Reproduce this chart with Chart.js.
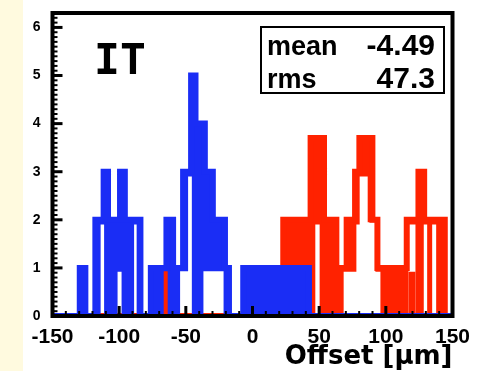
<!DOCTYPE html>
<html>
<head>
<meta charset="utf-8">
<script src="https://cdn.jsdelivr.net/npm/chart.js@4/dist/chart.umd.min.js"></script>
<style>
  html, body { margin: 0; padding: 0; }
  body {
    width: 480px; height: 371px; overflow: hidden;
    background: linear-gradient(to right, #fffadf 0, #fffadf 23px, #ffffff 23px);
  }
  canvas { display: block; }
</style>
</head>
<body>
<canvas id="c" width="480" height="371"></canvas>
<script>
// Track offset distributions (µm), stored as histogram bin edges + counts.
const blueEdges  = [-150, -129.55, -125.35, -117.85, -111.65, -108.35, -99.35, -95.75, -84.05, -76.25,
                    -64.55, -59.55, -52.05, -46.05, -42.75, -35.75, -29.75, -20.65, -17.65, -6.95, 42.35, 150];
const blueCounts = [0, 1, 0, 2, 3, 2, 3, 2, 0, 1, 2, 1, 3, 5, 4, 3, 2, 1, 0, 1, 0];

const redEdges   = [-150, -66, -64.5, 23.08, 43.58, 53.65, 62.89, 70.62, 76.93, 80.16,
                    89.92, 93.68, 115.68, 124.47, 128.75, 144.21, 150];
const redCounts  = [0, 1, 0, 2, 3.7, 2, 1, 2, 3, 3.7, 2, 1, 2, 3, 2, 0];

// Hollow parts left inside the heavy outlined bars: x-range and empty band [low, high].
const blueHoleFrom = [-113.9, -101.2, -88.8, -66.6, -54.3, -48.3, -36.8];
const blueHoleTo   = [-111.3, -98.2, -86.9, -63.6, -48.3, -45.5, -21.7];
const blueHoleLow  = [0, 0, 0, 0, 0, 0, 0];
const blueHoleHigh = [1.9, 0.92, 1.9, 0.93, 0.93, 2.9, 0.93];

const redHoleFrom = [47.11, 68.37, 77.91, 80.38, 86.39, 92.17, 116.96, 128.45, 134.75];
const redHoleTo   = [50.35, 77.91, 80.38, 86.39, 92.17, 95.93, 122.22, 131.0, 137.75];
const redHoleLow  = [0, 0, 0, 0, 0, 0, 0.92, 0, 0];
const redHoleHigh = [1.9, 0.92, 1.9, 2.9, 1.95, 0.92, 1.9, 1.9, 1.9];

const xTicks = [-150, -100, -50, 0, 50, 100, 150];
const yTicks = [0, 1, 2, 3, 4, 5, 6];
const statNames  = ['mean', 'rms'];
const statValues = ['-4.49', '47.3'];
const panelName  = 'IT';
const axisTitle  = 'Offset [μm]';

const BLUE = '#1a2df5';
const RED  = '#ff2200';

// Turn bins + hollows into three step profiles sharing the same x breakpoints.
function profile(edges, counts, hFrom, hTo, hLow, hHigh) {
  const xs = Array.from(new Set(edges.concat(hFrom, hTo))).sort((a, b) => a - b);
  const binAt = x => {
    for (let i = 0; i < counts.length; i++) if (x >= edges[i] && x < edges[i + 1]) return counts[i];
    return 0;
  };
  const holeAt = x => {
    for (let j = 0; j < hFrom.length; j++) if (x >= hFrom[j] && x < hTo[j]) return j;
    return -1;
  };
  return {
    top:  xs.map(x => ({ x, y: binAt(x) })),
    high: xs.map(x => { const j = holeAt(x); return { x, y: j < 0 ? 0 : hHigh[j] }; }),
    low:  xs.map(x => { const j = holeAt(x); return { x, y: j < 0 ? 0 : hLow[j] }; })
  };
}

// Heavy outline on the counts, filled down to the hollow band (or to zero).
function series(p, color) {
  const common = { stepped: true, pointRadius: 0, pointHoverRadius: 0 };
  return [
    { ...common, data: p.top, borderColor: color, borderWidth: 6, backgroundColor: color,
      fill: '+1', borderJoinStyle: 'miter', borderCapStyle: 'butt' },
    { ...common, data: p.high, borderColor: 'rgba(0,0,0,0)', borderWidth: 0, fill: false },
    { ...common, data: p.low, borderColor: 'rgba(0,0,0,0)', borderWidth: 0, backgroundColor: color, fill: 'origin' }
  ];
}

const blue = profile(blueEdges, blueCounts, blueHoleFrom, blueHoleTo, blueHoleLow, blueHoleHigh);
const red  = profile(redEdges, redCounts, redHoleFrom, redHoleTo, redHoleLow, redHoleHigh);

// Frame, inward tick marks, panel name and statistics box.
const decorations = {
  id: 'decorations',
  afterDatasetsDraw(chart) {
    const { ctx, chartArea: a, scales: { x, y } } = chart;
    ctx.save();
    ctx.strokeStyle = '#000';
    ctx.lineCap = 'butt';
    for (let v = -150; v <= 150; v += 10) {
      const px = x.getPixelForValue(v);
      const major = v % 50 === 0;
      ctx.lineWidth = major ? 3 : 2;
      ctx.beginPath();
      ctx.moveTo(px, a.bottom);
      ctx.lineTo(px, a.bottom - (major ? 10 : 5));
      ctx.stroke();
    }
    for (let k = 0; k <= 63; k++) {
      const py = y.getPixelForValue(k / 10);
      const major = k % 10 === 0;
      ctx.lineWidth = major ? 3 : 2;
      ctx.beginPath();
      ctx.moveTo(a.left, py);
      ctx.lineTo(a.left + (major ? 10 : 5), py);
      ctx.stroke();
    }
    ctx.lineWidth = 4;
    ctx.strokeRect(a.left, a.top, a.right - a.left, a.bottom - a.top);

    // panel name
    ctx.fillStyle = '#000';
    ctx.font = 'bold 43px "DejaVu Sans Mono"';
    ctx.textAlign = 'left';
    ctx.textBaseline = 'alphabetic';
    ctx.fillText(panelName, 94, 74);

    // statistics box
    ctx.fillStyle = '#fff';
    ctx.fillRect(261, 27, 183, 66);
    ctx.lineWidth = 2;
    ctx.strokeRect(261, 27, 183, 66);
    ctx.fillStyle = '#000';
    const rows = [54.5, 87.5];
    statNames.forEach((n, i) => {
      ctx.font = 'bold 27px "Liberation Sans"';
      ctx.textAlign = 'left';
      ctx.fillText(n, 267, rows[i]);
      ctx.font = 'bold 30px "Liberation Sans"';
      ctx.textAlign = 'right';
      ctx.fillText(statValues[i], 435, rows[i]);
    });
    ctx.restore();
  }
};

new Chart(document.getElementById('c'), {
  type: 'line',
  data: { datasets: [...series(blue, BLUE), ...series(red, RED)] },
  options: {
    responsive: false,
    animation: false,
    events: [],
    layout: { padding: { top: 13, right: 27.5, bottom: 0, left: 0 } },
    plugins: { legend: { display: false }, tooltip: { enabled: false } },
    scales: {
      x: {
        type: 'linear', min: -150, max: 150,
        grid: { display: false }, border: { display: false },
        ticks: {
          stepSize: 50, autoSkip: false, maxRotation: 0, padding: 1, color: '#000',
          font: { family: 'Liberation Sans', size: 21, weight: 'bold' },
          callback: v => (xTicks.includes(v) ? String(v) : '')
        },
        title: {
          display: true, text: axisTitle, align: 'end', color: '#000',
          font: { family: 'DejaVu Sans', size: 26, weight: 'bold', lineHeight: 1 },
          padding: { top: 0, bottom: 0.5 }
        },
        afterFit: s => { s.height = 55; }
      },
      y: {
        type: 'linear', min: 0, max: 6.3,
        grid: { display: false }, border: { display: false },
        ticks: {
          stepSize: 1, includeBounds: false, padding: 4, color: '#000',
          font: { family: 'Liberation Sans', size: 14, weight: 'bold' },
          callback: v => (yTicks.includes(v) ? String(v) : '')
        },
        afterFit: s => { s.width = 52.5; }
      }
    }
  },
  plugins: [decorations]
});
</script>
</body>
</html>
